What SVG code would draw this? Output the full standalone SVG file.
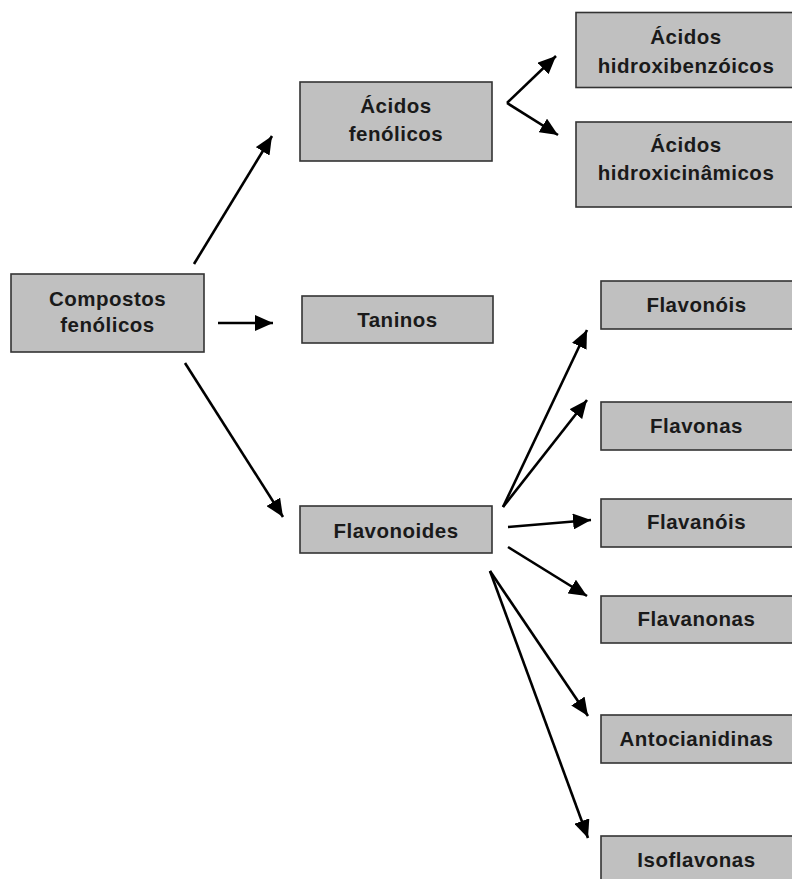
<svg xmlns="http://www.w3.org/2000/svg" width="792" height="879" viewBox="0 0 792 879">
<defs>
<style>
.box{fill:#c0c0c0;stroke:#333;stroke-width:1.6}
.t{font-family:"Liberation Sans",Arial,sans-serif;font-weight:bold;font-size:20.5px;letter-spacing:0.5px;fill:#1a1a1a;text-anchor:middle}
.c{stroke:#000;stroke-width:2.6;fill:none;marker-end:url(#ah)}
</style>
<marker id="ah" markerUnits="userSpaceOnUse" markerWidth="20" markerHeight="16" refX="18" refY="8" orient="auto">
<path d="M0,0 L18,8 L0,16 z" fill="#000"/>
</marker>
</defs>
<rect width="792" height="879" fill="#fff"/>
<g id="connectors">
<line class="c" x1="194" y1="264" x2="272" y2="136"/>
<line class="c" x1="218" y1="323" x2="273" y2="323"/>
<line class="c" x1="185" y1="363" x2="283" y2="517"/>
<line class="c" x1="507" y1="103" x2="556" y2="56"/>
<line class="c" x1="507" y1="103" x2="558" y2="135"/>
<line class="c" x1="503" y1="507" x2="587" y2="330"/>
<line class="c" x1="503" y1="507" x2="587" y2="400"/>
<line class="c" x1="508" y1="527" x2="591" y2="520"/>
<line class="c" x1="508" y1="547" x2="587" y2="596"/>
<line class="c" x1="490" y1="571" x2="588" y2="716"/>
<line class="c" x1="490" y1="571" x2="588" y2="838"/>
</g>
<g id="compostos">
<rect class="box" x="11" y="274" width="193" height="78"/>
<text class="t" x="107.5" y="306">Compostos</text>
<text class="t" x="107.5" y="332">fenólicos</text>
</g>
<g id="acidos-fenolicos">
<rect class="box" x="300" y="82" width="192" height="79"/>
<text class="t" x="396" y="113">Ácidos</text>
<text class="t" x="396" y="141">fenólicos</text>
</g>
<g id="taninos">
<rect class="box" x="302" y="296" width="191" height="47"/>
<text class="t" x="397.5" y="327">Taninos</text>
</g>
<g id="flavonoides">
<rect class="box" x="300" y="506" width="192" height="47"/>
<text class="t" x="396" y="538">Flavonoides</text>
</g>
<g id="hidroxibenzoicos">
<rect class="box" x="576" y="12.5" width="230" height="75"/>
<text class="t" x="686" y="44">Ácidos</text>
<text class="t" x="686" y="73">hidroxibenzóicos</text>
</g>
<g id="hidroxicinamicos">
<rect class="box" x="576" y="122" width="230" height="85"/>
<text class="t" x="686" y="152">Ácidos</text>
<text class="t" x="686" y="180">hidroxicinâmicos</text>
</g>
<g id="flavonois">
<rect class="box" x="601" y="281" width="210" height="48"/>
<text class="t" x="696.5" y="312">Flavonóis</text>
</g>
<g id="flavonas">
<rect class="box" x="601" y="402" width="210" height="48"/>
<text class="t" x="696.5" y="433">Flavonas</text>
</g>
<g id="flavanois">
<rect class="box" x="601" y="499" width="210" height="48"/>
<text class="t" x="696.5" y="529">Flavanóis</text>
</g>
<g id="flavanonas">
<rect class="box" x="601" y="596" width="210" height="47"/>
<text class="t" x="696.5" y="626">Flavanonas</text>
</g>
<g id="antocianidinas">
<rect class="box" x="601" y="715" width="210" height="48"/>
<text class="t" x="696.5" y="746">Antocianidinas</text>
</g>
<g id="isoflavonas">
<rect class="box" x="601" y="836" width="210" height="60"/>
<text class="t" x="696.5" y="867">Isoflavonas</text>
</g>
</svg>
